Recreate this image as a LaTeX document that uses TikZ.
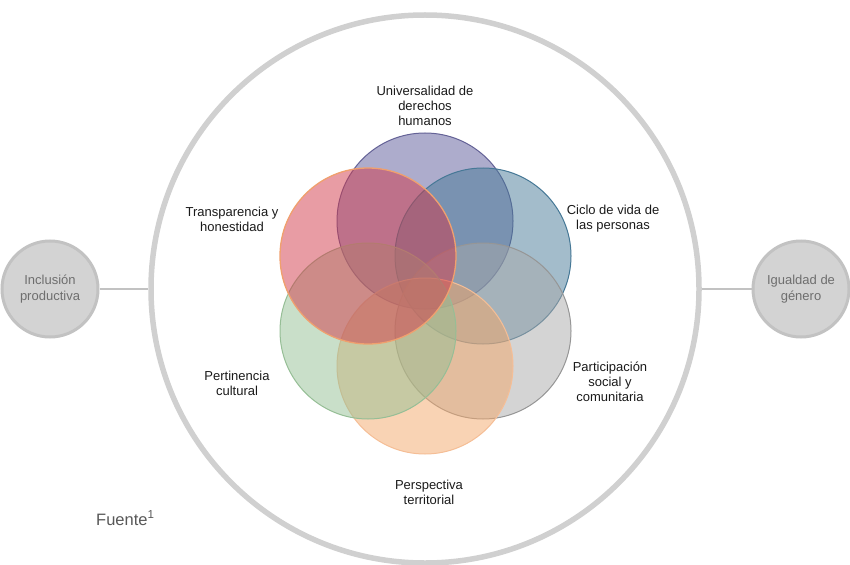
\documentclass[tikz,border=0pt]{standalone}
\usepackage{fontspec}
\setmainfont{Liberation Sans}
\definecolor{ringgray}{HTML}{D0D0D0}
\definecolor{sidefill}{HTML}{D3D3D3}
\definecolor{sidedraw}{HTML}{C2C2C2}
\definecolor{sidetext}{HTML}{6E6E6E}
\definecolor{cpurple}{RGB}{91,89,153}
\definecolor{cpurpleD}{RGB}{100,98,150}
\definecolor{cblue}{RGB}{71,121,151}
\definecolor{cblueD}{RGB}{70,120,150}
\definecolor{cred}{RGB}{209,57,73}
\definecolor{credD}{RGB}{240,160,110}
\definecolor{cgray}{RGB}{169,169,169}
\definecolor{cgrayD}{RGB}{150,150,150}
\definecolor{cgreen}{RGB}{147,191,147}
\definecolor{cgreenD}{RGB}{150,190,150}
\definecolor{corange}{RGB}{243,167,105}
\definecolor{corangeD}{RGB}{245,190,150}
\definecolor{txt}{HTML}{1A1A1A}
\begin{document}
\begin{tikzpicture}[x=1pt,y=-1pt,
  venn/.style={circle,minimum size=176pt,inner sep=0pt,fill opacity=0.5,line width=1pt},
  lbl/.style={align=center,font=\fontsize{13}{15}\selectfont,text=txt},
  side/.style={circle,minimum size=96pt,inner sep=0pt,fill=sidefill,draw=sidedraw,line width=3pt,
     align=center,font=\fontsize{13}{16}\selectfont,text=sidetext},
  conn/.style={draw=sidedraw,line width=1.8pt}]
\useasboundingbox (0,0) rectangle (850,564);
\node[circle,minimum size=548pt,inner sep=0pt,draw=ringgray,line width=5.5pt] (ring) at (425,289) {};
\node[side] (left) at (50,289) {Inclusión\\productiva};
\node[side] (right) at (801,289) {Igualdad de\\género};
\draw[conn] (left.east) -- (ring.west);
\draw[conn] (ring.east) -- (right.west);
\node[venn,fill=cpurple,draw=cpurpleD] (v1) at (425,221) {};
\node[venn,fill=cblue,draw=cblueD] (v2) at (483,256) {};
\node[venn,fill=cgray,draw=cgrayD] (v3) at (483,331) {};
\node[venn,fill=corange,draw=corangeD] (v4) at (425,366) {};
\node[venn,fill=cgreen,draw=cgreenD] (v5) at (368,331) {};
\node[venn,fill=cred,draw=credD,line width=1.3pt] (v6) at (368,256) {};
\node[lbl] (t1) at (425,106) {Universalidad de\\derechos\\humanos};
\node[lbl] (t2) at (613,219) {Ciclo de vida de\\las personas};
\node[lbl] (t3) at (610,382) {Participación\\social y\\comunitaria};
\node[lbl] (t4) at (429,492) {Perspectiva\\territorial};
\node[lbl] (t5) at (237,383) {Pertinencia\\cultural};
\node[lbl] (t6) at (232,219) {Transparencia y\\honestidad};
\node[anchor=base west,inner sep=0pt,font=\fontsize{16.5}{18}\selectfont,text=sidetext!80!black] (src) at (96,525) {Fuente\textsuperscript{1}};
\end{tikzpicture}
\end{document}
